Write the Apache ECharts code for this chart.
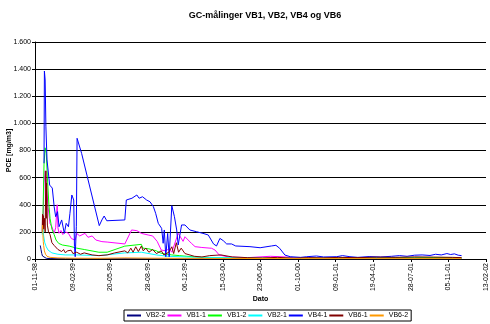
<!DOCTYPE html>
<html>
<head>
<meta charset="utf-8">
<script src="https://cdn.jsdelivr.net/npm/echarts@6/dist/echarts.min.js"></script>
<style>html,body{margin:0;padding:0;background:#fff}#c{width:490px;height:324px}</style>
</head>
<body>
<div id="c"></div>
<script>
// x values are days after 01-11-98; ticks every 100 days
const startDate = Date.UTC(1998, 10, 1);
const tickDays = 100;
const lastTickDay = 1200;
const yTicks = [0, 200, 400, 600, 800, 1000, 1200, 1400, 1600];
const seriesNames = ['VB2-2', 'VB1-1', 'VB1-2', 'VB2-1', 'VB4-1', 'VB6-1', 'VB6-2'];

const vb22 = [[14,100],[16,70],[18,40],[20,22],[24,10],[30,5],[40,3],[81,2],[202,2],[404,1],[707,1],[1010,1],[1135,1]];
const vb11 = [[21,250],[24,560],[27,650],[31,520],[35,380],[40,260],[45,238],[51,190],[55,230],[59,400],[61,230],[64,190],[69,210],[74,180],[81,200],[89,189],[97,150],[107,140],[111,189],[119,170],[133,189],[141,160],[152,170],[162,140],[178,128],[192,125],[239,111],[257,214],[271,209],[283,189],[301,177],[313,170],[325,130],[336,66],[348,60],[356,75],[364,50],[381,189],[394,130],[399,164],[416,116],[426,91],[444,85],[470,79],[479,66],[490,30],[515,15],[566,10],[626,20],[667,15],[707,5],[768,8],[828,6],[889,10],[949,8],[1010,12],[1071,10],[1135,8]];
const vb12 = [[21,300],[24,700],[27,820],[30,780],[33,600],[37,400],[40,300],[45,220],[51,180],[56,140],[63,115],[73,103],[91,95],[111,80],[131,70],[170,50],[192,50],[239,95],[283,108],[287,80],[303,75],[323,60],[336,42],[364,30],[384,25],[404,20],[455,10],[505,8],[606,5],[707,5],[808,8],[909,10],[1010,12],[1111,10],[1135,8]];
const vb21 = [[19,180],[21,230],[23,170],[26,120],[30,90],[35,65],[45,45],[61,35],[81,30],[111,30],[172,25],[239,45],[283,50],[323,30],[354,20],[404,15],[455,12],[505,10],[606,6],[707,5],[808,5],[909,6],[1010,5],[1135,4]];
const vb41 = [[24,706],[25,1386],[27,1320],[29,975],[32,730],[39,545],[46,523],[51,386],[55,312],[60,349],[64,238],[71,288],[78,189],[83,263],[89,238],[93,337],[98,472],[103,435],[105,91],[107,17],[110,238],[112,890],[124,779],[171,246],[178,288],[184,317],[191,282],[239,288],[243,435],[258,448],[271,472],[277,448],[286,459],[297,435],[306,422],[315,386],[321,337],[328,263],[337,226],[341,116],[344,214],[348,17],[353,189],[357,17],[364,393],[371,312],[377,214],[381,103],[390,251],[399,251],[412,214],[430,201],[447,189],[461,177],[475,111],[483,96],[492,152],[501,135],[510,111],[523,111],[534,96],[572,91],[599,83],[629,96],[641,101],[651,79],[665,29],[679,17],[707,12],[723,17],[749,22],[768,15],[803,17],[818,25],[838,17],[859,12],[889,18],[919,15],[949,20],[970,25],[990,20],[1010,28],[1030,30],[1051,26],[1066,35],[1081,30],[1096,40],[1106,33],[1116,38],[1126,28],[1135,25]];
const vb61 = [[19,200],[20,330],[21,250],[22,320],[23,220],[25,300],[27,200],[29,650],[30,300],[31,560],[33,250],[36,200],[40,180],[45,120],[51,100],[56,90],[61,70],[66,80],[71,55],[76,70],[81,45],[86,60],[91,50],[96,65],[101,40],[111,50],[121,35],[131,45],[152,30],[170,25],[192,30],[212,45],[239,60],[247,45],[255,80],[261,50],[268,90],[275,55],[283,95],[288,60],[295,80],[303,50],[313,70],[323,40],[336,60],[343,30],[356,50],[364,90],[369,40],[376,120],[382,50],[389,80],[399,40],[424,20],[444,15],[465,25],[495,30],[525,15],[566,10],[606,8],[646,12],[687,6],[727,10],[768,8],[808,12],[859,10],[909,14],[960,12],[1010,15],[1061,14],[1111,12],[1135,10]];
const vb62 = [[20,250],[21,180],[22,130],[23,100],[25,60],[28,35],[32,20],[40,12],[61,8],[101,6],[170,5],[239,8],[303,6],[404,5],[505,4],[707,3],[909,3],[1135,3]];

const seriesData = [vb22, vb11, vb12, vb21, vb41, vb61, vb62];
const colors = ['#000080', '#FF00FF', '#00FF00', '#00FFFF', '#0000FF', '#800000', '#FF9900'];

function fmtDate(d) {
  const dt = new Date(startDate + d * 86400000);
  const p = n => String(n).padStart(2, '0');
  return p(dt.getUTCDate()) + '-' + p(dt.getUTCMonth() + 1) + '-' + p(dt.getUTCFullYear() % 100);
}
function fmtNum(v) {
  return String(v).replace(/\B(?=(\d{3})+(?!\d))/g, '.');
}
const FONT = 'Liberation Sans';
const chart = echarts.init(document.getElementById('c'), null, {renderer: 'canvas'});
chart.setOption({
  animation: false,
  backgroundColor: '#fff',
  title: {
    text: 'GC-målinger VB1, VB2, VB4 og VB6',
    left: 260, top: 6, textAlign: 'center',
    textStyle: {fontFamily: FONT, fontSize: 9, fontWeight: 'bold', color: '#000'}
  },
  grid: {left: 35, right: 4, top: 42, bottom: 65, containLabel: false, outerBoundsMode: 'none'},
  legend: {
    data: seriesNames,
    left: 124, top: 310,
    padding: [2, 3],
    borderColor: '#000', borderWidth: 1,
    icon: 'rect',
    itemWidth: 14, itemHeight: 2, itemGap: 2,
    textStyle: {fontFamily: FONT, fontSize: 7, color: '#000'}
  },
  xAxis: {
    type: 'value', min: 0, max: lastTickDay, interval: tickDays,
    name: 'Dato', nameLocation: 'middle', nameGap: 37, nameMoveOverlap: false,
    nameTextStyle: {fontFamily: FONT, fontSize: 7, fontWeight: 'bold', color: '#000'},
    axisLine: {lineStyle: {color: '#000', width: 1}},
    axisTick: {show: true, length: 3, lineStyle: {color: '#000'}},
    axisLabel: {rotate: 90, fontFamily: FONT, fontSize: 7, color: '#000', margin: 4, formatter: fmtDate, showMaxLabel: true, showMinLabel: true},
    splitLine: {show: false}
  },
  yAxis: {
    type: 'value', min: yTicks[0], max: yTicks[yTicks.length - 1], interval: yTicks[1] - yTicks[0],
    name: 'PCE [mg/m3]', nameLocation: 'middle', nameGap: 22, nameRotate: 90, nameMoveOverlap: false,
    nameTextStyle: {fontFamily: FONT, fontSize: 7, fontWeight: 'bold', color: '#000'},
    axisLine: {show: true, lineStyle: {color: '#000', width: 1}},
    axisTick: {show: true, length: 3, lineStyle: {color: '#000'}},
    axisLabel: {fontFamily: FONT, fontSize: 7, color: '#000', margin: 4, formatter: fmtNum},
    splitLine: {show: true, lineStyle: {color: '#000', width: 1}}
  },
  series: seriesNames.map((n, i) => ({
    name: n, type: 'line', data: seriesData[i],
    symbol: 'none', showSymbol: false,
    lineStyle: {width: 1, color: colors[i]},
    itemStyle: {color: colors[i]},
    emphasis: {disabled: true}
  }))
});
</script>
</body>
</html>
